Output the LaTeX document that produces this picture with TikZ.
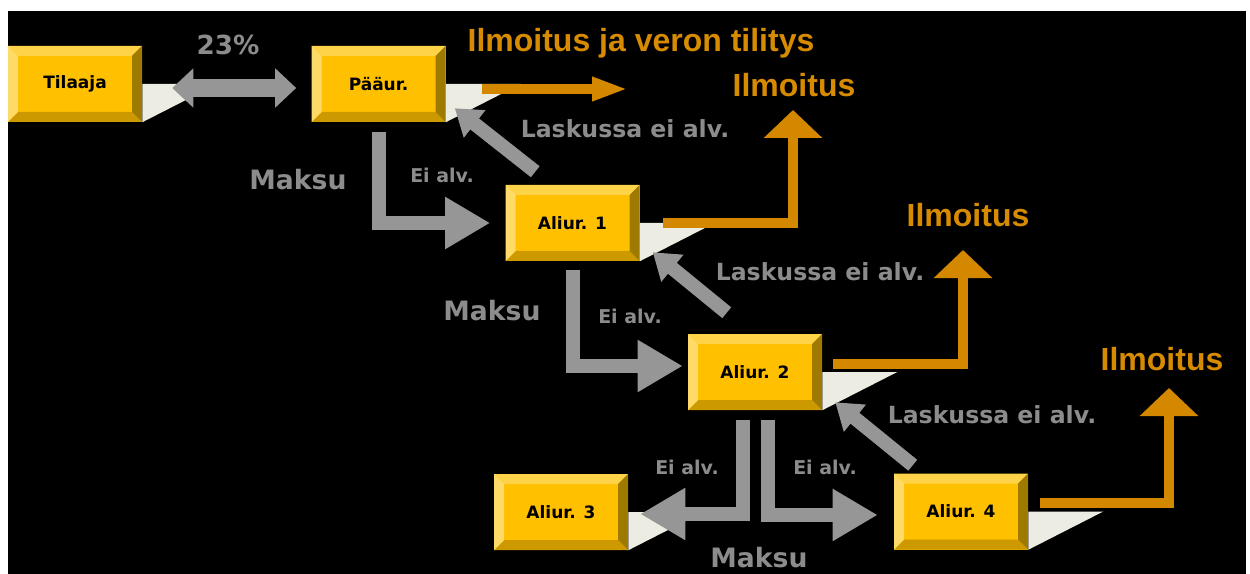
\documentclass[tikz,border=0pt]{standalone}
\usepackage{fontspec}
\usepackage{tikz}
\usetikzlibrary{arrows.meta}

\newfontfamily\lblfont{DejaVu Sans}
\newfontfamily\orfont{Liberation Sans}
\newcommand\ppbb{path picture bounding box}

\definecolor{boxface}{RGB}{255,192,0}
\definecolor{boxtop}{RGB}{255,211,72}
\definecolor{boxleft}{RGB}{255,218,102}
\definecolor{boxright}{RGB}{158,122,0}
\definecolor{boxbottom}{RGB}{204,154,0}
\definecolor{shadowcol}{RGB}{237,236,227}
\definecolor{arrgray}{RGB}{150,150,150}
\definecolor{txtgray}{RGB}{140,140,140}
\definecolor{orarrcol}{RGB}{212,136,0}
\definecolor{ortxt}{RGB}{214,139,0}

\tikzset{
  box/.style={minimum width=100.5pt, minimum height=57pt, inner sep=0pt,
    fill=boxface, font=\lblfont\bfseries\fontsize{12.75pt}{14pt}\selectfont,
    path picture={
      \fill[boxtop] (\ppbb.north west) -- (\ppbb.north east)
        -- ([shift={(-7.5pt,-7.5pt)}]\ppbb.north east) -- ([shift={(7.5pt,-7.5pt)}]\ppbb.north west) -- cycle;
      \fill[boxbottom] (\ppbb.south west) -- (\ppbb.south east)
        -- ([shift={(-7.5pt,7.5pt)}]\ppbb.south east) -- ([shift={(7.5pt,7.5pt)}]\ppbb.south west) -- cycle;
      \fill[boxleft] (\ppbb.north west) -- ([shift={(7.5pt,-7.5pt)}]\ppbb.north west)
        -- ([shift={(7.5pt,7.5pt)}]\ppbb.south west) -- (\ppbb.south west) -- cycle;
      \fill[boxright] (\ppbb.north east) -- ([shift={(-7.5pt,-7.5pt)}]\ppbb.north east)
        -- ([shift={(-7.5pt,7.5pt)}]\ppbb.south east) -- (\ppbb.south east) -- cycle;
    }},
  graylbl/.style={text=txtgray, anchor=base, inner sep=0pt},
  orlbl/.style={text=ortxt, anchor=base, inner sep=0pt, font=\orfont\bfseries\fontsize{24pt}{28pt}\selectfont},
  duo/.style={draw=arrgray, line width=13.5pt,
    {Triangle[length=15.75pt,width=28.5pt]}-{Triangle[length=15.75pt,width=28.5pt]}},
  grarr/.style={draw=arrgray, line width=10.5pt, -{Triangle[length=33.75pt,width=36.75pt]}},
  diagarr/.style={draw=arrgray, line width=10.5pt, -{Triangle[length=19pt,width=25pt]}},
  orarr/.style={draw=orarrcol, line width=7.5pt, -{Triangle[length=21pt,width=42.75pt]}},
  orflat/.style={draw=orarrcol, line width=7.5pt, -{Triangle[length=27pt,width=16.5pt]}}
}

\begin{document}
\begin{tikzpicture}[x=0.75pt,y=-0.75pt]
  \useasboundingbox (0,0) rectangle (1250,574);
  \fill[white] (0,0) rectangle (1250,574);
  \fill[black] (8,11) rectangle (1246,574);

  \node[box] (ti) at (75,84) {Tilaaja};
  \node[box] (pa) at (378.5,84) {Pääur.};
  \node[box] (a1) at (572.5,223) {Aliur. 1};
  \node[box] (a2) at (755,372) {Aliur. 2};
  \node[box] (a3) at (561,512) {Aliur. 3};
  \node[box] (a4) at (961,511.5) {Aliur. 4};

  \foreach \n in {ti,pa,a1,a2,a3,a4}
    \fill[shadowcol] (\n.east) -- ++(75,0) -- (\n.south east) -- cycle;

  \coordinate (t0) at (628,89);
  \coordinate (t1) at (793,110);
  \coordinate (t2) at (963,250);
  \coordinate (t3) at (1169,388);

  \draw[duo, shorten <=22.5pt, shorten >=11.25pt] ([yshift=-3pt]ti.east) -- ([yshift=-3pt]pa.west);

  \draw[orflat, shorten <=27pt] ([yshift=-3.75pt]pa.east) -- (t0);
  \draw[orarr, shorten <=17.25pt] (a1.east) -| (t1);
  \draw[orarr, shorten <=8.25pt] ([yshift=6pt]a2.east) -| (t2);
  \draw[orarr, shorten <=9pt] ([yshift=6.4pt]a4.east) -| (t3);

  \draw[grarr, shorten <=7.5pt, shorten >=11.25pt] (pa.south) |- (a1.west);
  \draw[grarr, shorten <=6.75pt, shorten >=3.75pt] (a1.south) |- ([yshift=4.5pt]a2.west);
  \draw[grarr, shorten <=7.5pt, shorten >=9pt] ([xshift=-9pt]a2.south) |- ([yshift=-1.5pt]a3.east);
  \draw[grarr, shorten <=7pt, shorten >=12pt] ([xshift=9.75pt]a2.south) |- ([yshift=-2.6pt]a4.west);

  \draw[diagarr] ([shift={(30,-13)}]a1.north west) -- ([shift={(9,-14)}]pa.south east);
  \draw[diagarr] ([shift={(39,-21)}]a2.north west) -- ([shift={(13,-9)}]a1.south east);
  \draw[diagarr] ([shift={(19,-8)}]a4.north west) -- ([shift={(13,-8)}]a2.south east);

  \begin{scope}[font=\lblfont\bfseries\fontsize{19.7pt}{22pt}\selectfont]
    \node[graylbl] (vat) at (228,55) {23\%};
  \end{scope}
  \begin{scope}[font=\lblfont\bfseries\fontsize{20pt}{22pt}\selectfont]
    \node[graylbl] (mak1) at (298,190) {Maksu};
    \node[graylbl] (mak2) at (492,320) {Maksu};
    \node[graylbl] (mak3) at (759,567) {Maksu};
  \end{scope}
  \begin{scope}[font=\lblfont\bfseries\fontsize{14.25pt}{16pt}\selectfont]
    \node[graylbl] (ei1) at (442,183) {Ei alv.};
    \node[graylbl] (ei2) at (630,323) {Ei alv.};
    \node[graylbl] (ei3) at (687,474) {Ei alv.};
    \node[graylbl] (ei4) at (825,474) {Ei alv.};
  \end{scope}
  \begin{scope}[font=\lblfont\bfseries\fontsize{17.7pt}{20pt}\selectfont]
    \node[graylbl] (las1) at (625,138) {Laskussa ei alv.};
    \node[graylbl] (las2) at (820,281) {Laskussa ei alv.};
    \node[graylbl] (las3) at (992,423) {Laskussa ei alv.};
  \end{scope}

  \node[orlbl] (tilitys) at (641,52) {Ilmoitus ja veron tilitys};
  \node[orlbl] (ilm1) at (794,97) {Ilmoitus};
  \node[orlbl] (ilm2) at (968,227) {Ilmoitus};
  \node[orlbl] (ilm3) at (1162,370) {Ilmoitus};
\end{tikzpicture}
\end{document}
